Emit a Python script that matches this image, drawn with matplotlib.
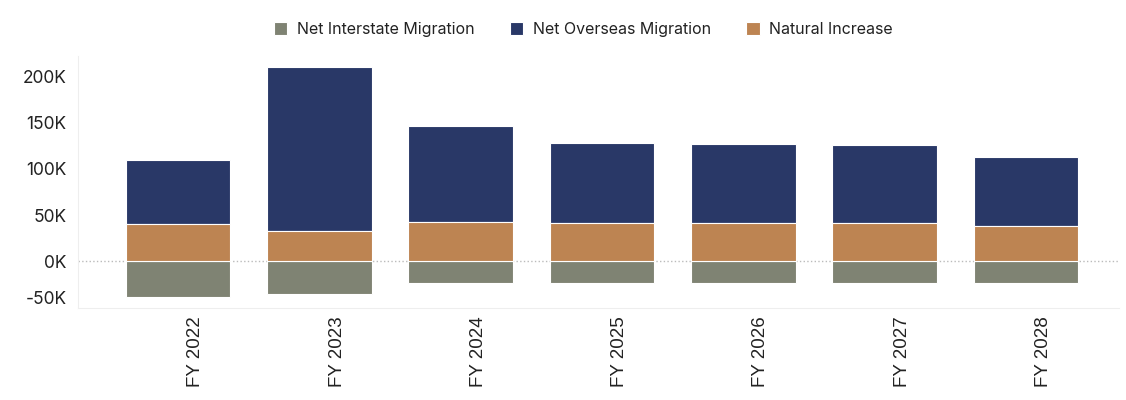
import matplotlib.pyplot as plt
import numpy as np

years = ['FY 2022', 'FY 2023', 'FY 2024', 'FY 2025', 'FY 2026', 'FY 2027', 'FY 2028']
interstate = [-39, -35, -24, -24, -24, -24, -23]
overseas = [69, 177, 104, 87, 86, 85, 75]
natural = [40, 33, 42, 41, 41, 41, 38]

c_inter = '#7f8373'
c_over = '#293867'
c_nat = '#bd8452'

fig = plt.figure(figsize=(11.26, 4), dpi=100)
ax = fig.add_axes([0.069, 0.23, 0.925, 0.63])
x = np.arange(len(years))
w = 0.74
ax.bar(x, interstate, w, color=c_inter, edgecolor='white', linewidth=0.8, label='Net Interstate Migration')
ax.bar(x, overseas, w, bottom=natural, color=c_over, edgecolor='white', linewidth=0.8, label='Net Overseas Migration')
ax.bar(x, natural, w, color=c_nat, edgecolor='white', linewidth=0.8, label='Natural Increase')
ax.axhline(0, color='#bbbbbb', linestyle=':', linewidth=1, zorder=0)

ax.set_xlim(-0.71, 6.66)
ax.set_ylim(-50.5, 222)
ax.set_yticks([-50, 0, 50, 100, 150, 200])
ax.set_yticklabels(['-50K', '0K', '50K', '100K', '150K', '200K'], fontsize=12.5, family='Inter', color='#222222')
# bottom label sits inside the axis, like the original
ax.get_yticklabels()[0].set_va('bottom')
# category labels sit a bit right of the bar centres in the original
ax.set_xticks(x + 0.125)
ax.set_xticklabels(years, rotation=90, fontsize=13.5, family='Liberation Sans', color='#222222')
ax.tick_params(length=0)
ax.tick_params(axis='y', pad=8)
ax.tick_params(axis='x', pad=6)
for s in ['top', 'right']:
    ax.spines[s].set_visible(False)
for s in ['left', 'bottom']:
    ax.spines[s].set_color('#eeeeee')

leg = fig.legend(loc='upper center', bbox_to_anchor=(0.518, 0.98), ncol=3, frameon=False,
                 handlelength=0.85, handleheight=0.85, handletextpad=0.6, columnspacing=2.2,
                 prop={'family': 'Inter', 'size': 11.5})
for t in leg.get_texts():
    t.set_color('#222222')

fig.savefig('out.png', dpi=100)
